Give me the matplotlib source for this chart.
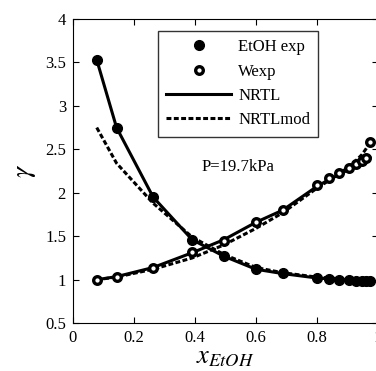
import numpy as np
from matplotlib import pyplot as plt

plt.rcParams['font.family'] = 'Liberation Serif'
plt.rcParams['mathtext.fontset'] = 'stix'

x_exp = [0.078, 0.143, 0.263, 0.391, 0.495, 0.600, 0.688, 0.799, 0.839, 0.874, 0.905, 0.928, 0.948, 0.962, 0.974]
g_etoh_exp = [3.53, 2.75, 1.95, 1.46, 1.27, 1.12, 1.08, 1.02, 1.01, 1.00, 1.00, 0.99, 0.99, 0.99, 0.99]
g_w_exp = [1.00, 1.035, 1.14, 1.32, 1.445, 1.66, 1.80, 2.09, 2.17, 2.23, 2.29, 2.33, 2.37, 2.40, 2.58]

g_etoh_nrtl = [3.53, 2.75, 1.95, 1.46, 1.27, 1.12, 1.07, 1.02, 1.01, 1.00, 1.00, 1.00, 1.00, 1.00, 1.00]
g_w_nrtl = [1.00, 1.035, 1.14, 1.31, 1.46, 1.66, 1.80, 2.07, 2.15, 2.21, 2.27, 2.31, 2.35, 2.38, 2.41]
g_etoh_mod = [2.75, 2.34, 1.88, 1.49, 1.29, 1.14, 1.08, 1.03, 1.02, 1.01, 1.00, 1.00, 1.00, 1.00, 1.00]
g_w_mod = [1.00, 1.03, 1.12, 1.25, 1.40, 1.59, 1.77, 2.05, 2.14, 2.22, 2.30, 2.37, 2.44, 2.51, 2.58]

fig = plt.figure(figsize=(3.76, 3.71), dpi=100)
ax = fig.add_axes([0.194, 0.129, 0.811, 0.82])

ax.plot(x_exp, g_etoh_nrtl, 'k-', lw=2.2, label='NRTL')
ax.plot(x_exp, g_w_nrtl, 'k-', lw=2.2)
ax.plot(x_exp, g_etoh_mod, 'k--', lw=2.2, dashes=(1.6, 0.8), label='NRTLmod')
ax.plot(x_exp, g_w_mod, 'k--', lw=2.2, dashes=(1.6, 0.8))
ax.plot(x_exp, g_etoh_exp, 'ko', ms=7, ls='none', label='EtOH exp')
ax.plot(x_exp, g_w_exp, 'o', ms=5.5, mfc='white', mec='k', mew=2.4, ls='none', label='Wexp')

ax.set_xlim(0, 1)
ax.set_ylim(0.5, 4)
ax.set_xticks([0, 0.2, 0.4, 0.6, 0.8, 1])
ax.set_xticklabels(['0', '0.2', '0.4', '0.6', '0.8', '1'])
ax.set_yticks([0.5, 1, 1.5, 2, 2.5, 3, 3.5, 4])
ax.set_yticklabels(['0.5', '1', '1.5', '2', '2.5', '3', '3.5', '4'])
ax.tick_params(direction='in', top=True, right=True, labelsize=12, length=4, pad=5)
ax.set_xlabel(r'$x_{EtOH}$', fontsize=19, labelpad=1)
ax.set_ylabel(r'$\gamma$', fontsize=20, labelpad=5)
ax.text(0.54, 2.30, 'P=19.7kPa', fontsize=12, ha='center', va='center')

h, l = ax.get_legend_handles_labels()
order = [2, 3, 0, 1]
leg = ax.legend([h[i] for i in order], [l[i] for i in order], loc='upper left',
                bbox_to_anchor=(0.279, 0.9605), borderaxespad=0, fontsize=12,
                fancybox=False, edgecolor='k', handlelength=3.9, handletextpad=0.4,
                labelspacing=0.5, borderpad=0.5)
leg.get_frame().set_linewidth(1)

fig.savefig('out.png', dpi=100)
